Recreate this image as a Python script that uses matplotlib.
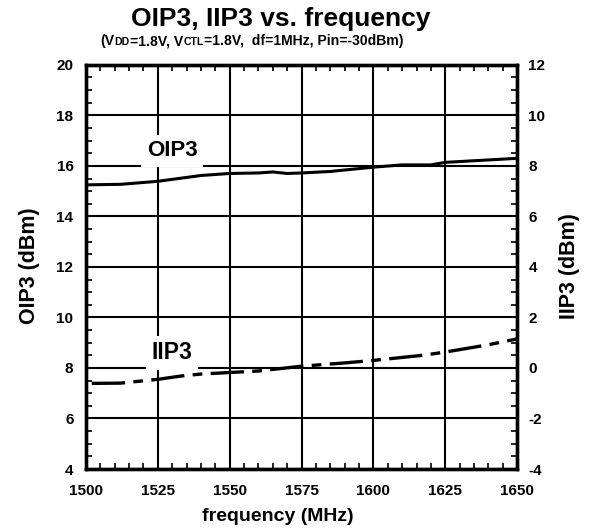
import matplotlib
matplotlib.use('Agg')
import matplotlib.pyplot as plt
from matplotlib.ticker import MultipleLocator

plt.rcParams['font.family'] = ['Liberation Sans', 'DejaVu Sans']
plt.rcParams['font.weight'] = 'bold'
plt.rcParams['lines.scale_dashes'] = False
plt.rcParams['axes.unicode_minus'] = False

# OIP3 (left axis) and IIP3 (right axis) vs frequency
freq_oip3 = [1500, 1512, 1525, 1540, 1550, 1560, 1565, 1570, 1575, 1585, 1600, 1610, 1620, 1625, 1650]
oip3 = [15.25, 15.27, 15.39, 15.62, 15.70, 15.72, 15.76, 15.70, 15.72, 15.78, 15.95, 16.04, 16.04, 16.14, 16.30]

freq_iip3 = [1502, 1512, 1525, 1533, 1540, 1550, 1560, 1575, 1590, 1600, 1617, 1625, 1640, 1650]
iip3 = [-0.61, -0.60, -0.45, -0.32, -0.24, -0.18, -0.12, 0.07, 0.20, 0.30, 0.50, 0.63, 0.92, 1.15]

x_ticks = [1500, 1525, 1550, 1575, 1600, 1625, 1650]

fig = plt.figure(figsize=(5.89, 5.29), dpi=100)
ax = fig.add_axes([0.146, 0.1134, 0.732, 0.764])
ax2 = ax.twinx()

ax.plot(freq_oip3, oip3, color='black', lw=2.2, solid_joinstyle='round')
ax2.plot(freq_iip3, iip3, color='black', lw=2.4, dashes=(24, 6, 7, 6))

ax.set_xlim(1500, 1650)
ax.set_ylim(4, 20)
ax2.set_ylim(-4, 12)

ax.set_xticks(x_ticks)
ax.xaxis.set_minor_locator(MultipleLocator(5))
ax.yaxis.set_major_locator(MultipleLocator(2))
ax.yaxis.set_minor_locator(MultipleLocator(0.5))
ax2.yaxis.set_major_locator(MultipleLocator(2))
ax2.yaxis.set_minor_locator(MultipleLocator(0.5))

ax.grid(True, which='major', color='black', lw=1.5)
ax.set_axisbelow(True)

for a in (ax, ax2):
    for s in a.spines.values():
        s.set_linewidth(2.4)
    a.tick_params(which='both', direction='in', labelsize=11, width=1.2)
    a.tick_params(which='minor', length=4)
    a.tick_params(which='major', length=0)
ax.tick_params(axis='x', which='both', top=True, pad=11)
ax.tick_params(axis='y', which='both', pad=9)
ax2.tick_params(axis='y', which='both', pad=8)

ax.set_xlabel('frequency (MHz)', fontsize=14, fontweight='bold', va='center')
ax.xaxis.set_label_coords(0.444, -0.118)
ax.set_ylabel('OIP3 (dBm)', fontsize=15.5, fontweight='bold', va='center')
ax.yaxis.set_label_coords(-0.131, 0.502)
ax2.set_ylabel('IIP3 (dBm)', fontsize=15.5, fontweight='bold', va='center')
ax2.yaxis.set_label_coords(1.122, 0.502)

ax.text(1530, 16.6, 'OIP3', fontsize=16, fontweight='bold', ha='center', va='center',
        bbox=dict(facecolor='white', edgecolor='none', pad=4))
ax.text(1530, 8.6, 'IIP3', fontsize=16.5, fontweight='bold', ha='center', va='center',
        bbox=dict(facecolor='white', edgecolor='none', pad=4))

fig.text(0.476, 0.950, 'OIP3, IIP3 vs. frequency', fontsize=19, fontweight='bold',
         ha='center', va='baseline')

# subtitle with small-caps subscripts, pieces chained on one baseline
pieces = [('(V', 10.1), ('DD', 7.6), ('=1.8V, V', 10.1), ('CTL', 7.6),
          ('=1.8V,  df=1MHz, Pin=-30dBm)', 10.1)]
base_y = 1 - 45.0 / 529
prev = fig.text(0.170, base_y, pieces[0][0], fontsize=pieces[0][1], fontweight='bold',
                ha='left', va='baseline')
for txt, size in pieces[1:]:
    prev = fig.add_artist(plt.Annotation(txt, xy=(1, base_y), xycoords=(prev, 'figure fraction'),
                                         xytext=(0.2, 0), textcoords='offset points',
                                         fontsize=size, fontweight='bold', ha='left',
                                         va='baseline', annotation_clip=False))

fig.savefig('out.png', dpi=100)
